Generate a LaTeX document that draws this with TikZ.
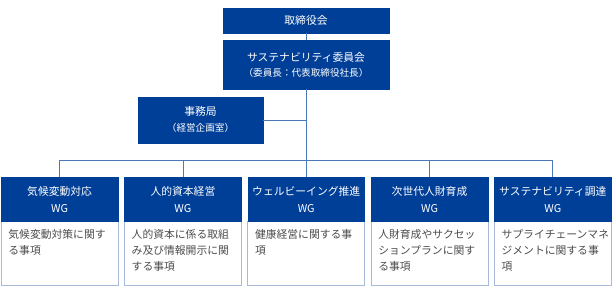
\documentclass[tikz,border=0pt]{standalone}
\usepackage{fontspec}
\setmainfont{Noto Sans CJK JP}
\definecolor{hdr}{HTML}{003F98}
\definecolor{conn}{HTML}{4A78B8}
\definecolor{bodyline}{HTML}{A8BAD8}
\definecolor{bodytext}{HTML}{4D4D4D}
\begin{document}
\begin{tikzpicture}[x=1pt,y=-1pt,
  hdrbox/.style={fill=hdr,draw=hdr,text=white,inner sep=0pt,align=center},
  bodybox/.style={draw=bodyline,fill=white,line width=0.8pt},
  conline/.style={draw=conn,line width=0.8pt},
  hdrtxt/.style={text=white,font=\fontsize{10.8}{16.7}\selectfont,align=center},
  smalltxt/.style={text=white,font=\fontsize{9.6}{12}\selectfont},
  bodytxt/.style={text=bodytext,font=\fontsize{10.8}{16}\selectfont,align=left,anchor=north west,inner sep=0pt}
]
\useasboundingbox (0,0) rectangle (612,290);
% top boxes
\path[hdrbox] (223,8) rectangle (389,33);
\node[hdrtxt] (board) at (306,20.5) {取締役会};
\path[hdrbox] (223,40) rectangle (389,89);
\node[hdrtxt] (comm) at (306,57.5) {サステナビリティ委員会};
\node[smalltxt] (commsub) at (306,73) {（委員長：代表取締役社長）};
\path[hdrbox] (138,97) rectangle (263,143);
\node[hdrtxt] (sec) at (200.5,111) {事務局};
\node[smalltxt] (secsub) at (200.5,127.5) {（経営企画室）};
\coordinate (boardB) at (306,33);
\coordinate (commT) at (306,40);
\coordinate (commB) at (306,89);
\coordinate (secR) at (263,120);
\coordinate (secJ) at (306,120);
\coordinate (busC) at (306,160);
\draw[conline] (boardB) -- (commT);
\draw[conline] (commB) -- (busC);
\draw[conline] (secR) -- (secJ);
% WG boxes
\foreach \i/\t/\b in {
  0/{気候変動対応\\WG}/{気候変動対策に関す\\る事項},
  1/{人的資本経営\\WG}/{人的資本に係る取組\\み及び情報開示に関\\する事項},
  2/{ウェルビーイング推進\\WG}/{健康経営に関する事\\項},
  3/{次世代人財育成\\WG}/{人財育成やサクセッ\\ションプランに関す\\る事項},
  4/{サステナビリティ調達\\WG}/{サプライチェーンマネ\\ジメントに関する事\\項}}{
  \pgfmathsetmacro{\L}{1.2+123.3*\i}
  \pgfmathsetmacro{\R}{\L+116.8}
  \pgfmathsetmacro{\C}{\L+58.4}
  \path[bodybox] (\L,221) rectangle (\R,285);
  \path[hdrbox] (\L,177) rectangle (\R,221);
  \node[hdrtxt] (wg\i) at (\C,199.5) {\t};
  \node[bodytxt] (wgb\i) at (\L+7,229.5) {\b};
  \coordinate (wgt\i) at (\C,177);
  \coordinate (bus\i) at (\C,160);
  \draw[conline] (bus\i) -- (wgt\i);
}
\draw[conline] (bus0) -- (bus4);
\end{tikzpicture}
\end{document}
